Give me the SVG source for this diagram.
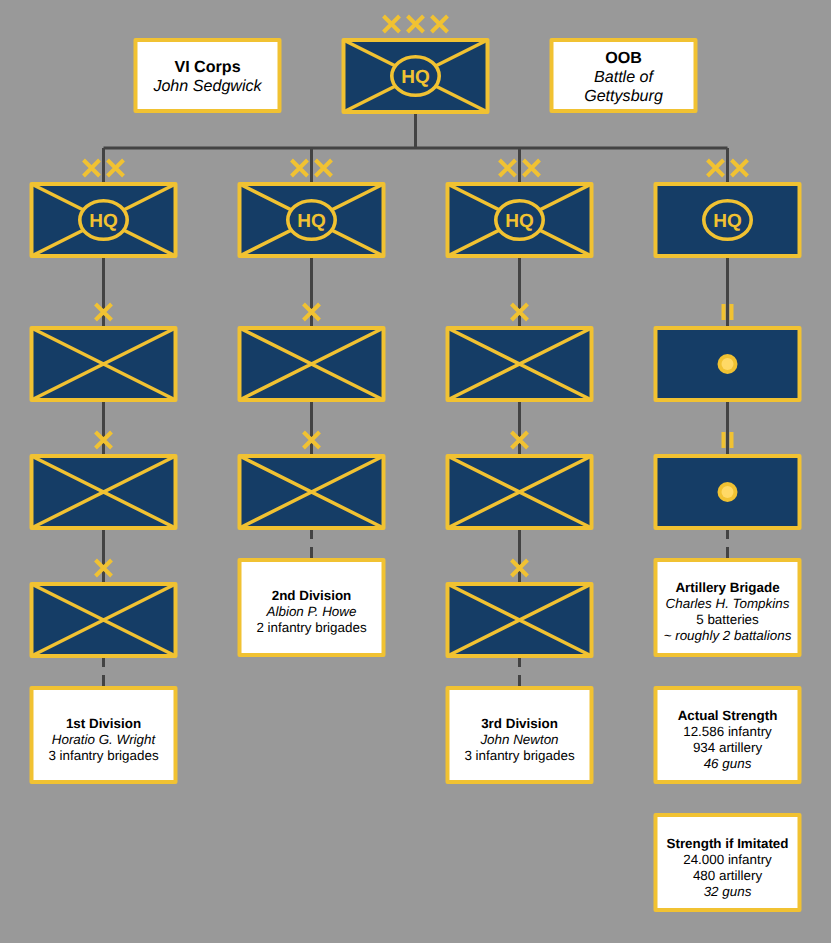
<svg xmlns="http://www.w3.org/2000/svg" xmlns:xlink="http://www.w3.org/1999/xlink" width="831" height="943" viewBox="0 0 831 943">
<style>
.u{fill:#153d66;stroke:#f1c232;stroke-width:4;stroke-linejoin:round}
.w{fill:#fff;stroke:#f1c232;stroke-width:4;stroke-linejoin:round}
.x{stroke:#f1c232;stroke-width:3.5;fill:none}
.m{stroke:#f1c232;stroke-width:4;fill:none}
.o{fill:#153d66;stroke:#f1c232;stroke-width:3.6}
.hq{font:bold 19px "Liberation Sans",Arial,sans-serif;fill:#f1c232;text-anchor:middle;text-rendering:geometricPrecision}
.c{stroke:#434343;stroke-width:3;fill:none}
.t{font:13.4px "Liberation Sans",Arial,sans-serif;fill:#000;text-anchor:middle;text-rendering:geometricPrecision}
.b{font-weight:bold}.i{font-style:italic}
.l{font-size:16.1px}
</style>
<defs>
<g id="X"><path class="m" d="M-8-8L8 8M8-8L-8 8"/></g>
<g id="II"><path class="m" d="M-4-8V8M4-8V8" /></g>
<g id="inf"><rect class="u" x="-72" y="-36" width="144" height="72"/><path class="x" d="M-72-36L72 36M72-36L-72 36"/></g>
<g id="hqo"><ellipse class="o" rx="23.7" ry="19.3"/><text class="hq" y="6.6">HQ</text></g>
<g id="art"><rect class="u" x="-72" y="-36" width="144" height="72"/><circle r="10" fill="#f1c232"/><circle r="6" fill="#ffd966"/></g>
</defs>
<rect width="831" height="943" fill="#999"/>
<g id="connectors">
<path class="c" d="M415.5 112V148M103.5 148H727.5M103.5 148V184M311.5 148V184M519.5 148V184M727.5 148V184"/>
<path class="c" d="M103.5 256V328M103.5 400V456M103.5 528V584M311.5 256V328M311.5 400V456M519.5 256V328M519.5 400V456M519.5 528V584M727.5 256V328M727.5 400V456"/>
<path class="c" d="M103.5 656V667M103.5 675V688M311.5 528V539M311.5 547V560M519.5 656V667M519.5 675V688M727.5 528V539M727.5 547V560"/>
</g>
<g id="corps-hq"><use href="#X" x="391.5" y="24"/><use href="#X" x="415.5" y="24"/><use href="#X" x="439.5" y="24"/><use href="#inf" x="415.5" y="76"/><use href="#hqo" x="415.5" y="76"/></g>
<g id="corps-label"><rect class="w" x="135.5" y="40" width="144" height="71"/><text class="t l b" x="207.5" y="72">VI Corps</text><text class="t l i" x="207.5" y="91">John Sedgwick</text></g>
<g id="oob"><rect class="w" x="551.5" y="40" width="144" height="71"/><text class="t l b" x="623.5" y="63">OOB</text><text class="t l i" x="623.5" y="82">Battle of</text><text class="t l i" x="623.5" y="101">Gettysburg</text></g>
<g id="div1-hq"><use href="#X" x="91.5" y="168"/><use href="#X" x="115.5" y="168"/><use href="#inf" x="103.5" y="220"/><use href="#hqo" x="103.5" y="220"/></g>
<g id="div2-hq"><use href="#X" x="299.5" y="168"/><use href="#X" x="323.5" y="168"/><use href="#inf" x="311.5" y="220"/><use href="#hqo" x="311.5" y="220"/></g>
<g id="div3-hq"><use href="#X" x="507.5" y="168"/><use href="#X" x="531.5" y="168"/><use href="#inf" x="519.5" y="220"/><use href="#hqo" x="519.5" y="220"/></g>
<g id="art-hq"><use href="#X" x="715.5" y="168"/><use href="#X" x="739.5" y="168"/><rect class="u" x="655.5" y="184" width="144" height="72"/><use href="#hqo" x="727.5" y="220"/></g>
<g id="d1b1"><use href="#X" x="103.5" y="312"/><use href="#inf" x="103.5" y="364"/></g>
<g id="d1b2"><use href="#X" x="103.5" y="440"/><use href="#inf" x="103.5" y="492"/></g>
<g id="d1b3"><use href="#X" x="103.5" y="568"/><use href="#inf" x="103.5" y="620"/></g>
<g id="d2b1"><use href="#X" x="311.5" y="312"/><use href="#inf" x="311.5" y="364"/></g>
<g id="d2b2"><use href="#X" x="311.5" y="440"/><use href="#inf" x="311.5" y="492"/></g>
<g id="d3b1"><use href="#X" x="519.5" y="312"/><use href="#inf" x="519.5" y="364"/></g>
<g id="d3b2"><use href="#X" x="519.5" y="440"/><use href="#inf" x="519.5" y="492"/></g>
<g id="d3b3"><use href="#X" x="519.5" y="568"/><use href="#inf" x="519.5" y="620"/></g>
<g id="a1"><use href="#II" x="727.5" y="312"/><use href="#art" x="727.5" y="364"/></g>
<g id="a2"><use href="#II" x="727.5" y="440"/><use href="#art" x="727.5" y="492"/></g>
<g id="div1"><rect class="w" x="31.5" y="688" width="144" height="94"/><text class="t b" x="103.5" y="728">1st Division</text><text class="t i" x="103.5" y="744">Horatio G. Wright</text><text class="t" x="103.5" y="760">3 infantry brigades</text></g>
<g id="div2"><rect class="w" x="239.5" y="560" width="144" height="95"/><text class="t b" x="311.5" y="600">2nd Division</text><text class="t i" x="311.5" y="616">Albion P. Howe</text><text class="t" x="311.5" y="632">2 infantry brigades</text></g>
<g id="div3"><rect class="w" x="447.5" y="688" width="144" height="94"/><text class="t b" x="519.5" y="728">3rd Division</text><text class="t i" x="519.5" y="744">John Newton</text><text class="t" x="519.5" y="760">3 infantry brigades</text></g>
<g id="artbde"><rect class="w" x="655.5" y="560" width="144" height="95"/><text class="t b" x="727.5" y="592">Artillery Brigade</text><text class="t i" x="727.5" y="608">Charles H. Tompkins</text><text class="t" x="727.5" y="624">5 batteries</text><text class="t i" x="727.5" y="640">~ roughly 2 battalions</text></g>
<g id="actual"><rect class="w" x="655.5" y="688" width="144" height="94"/><text class="t b" x="727.5" y="720">Actual Strength</text><text class="t" x="727.5" y="736">12.586 infantry</text><text class="t" x="727.5" y="752">934 artillery</text><text class="t i" x="727.5" y="768">46 guns</text></g>
<g id="imitated"><rect class="w" x="655.5" y="815" width="144" height="95"/><text class="t b" x="727.5" y="848">Strength if Imitated</text><text class="t" x="727.5" y="864">24.000 infantry</text><text class="t" x="727.5" y="880">480 artillery</text><text class="t i" x="727.5" y="896">32 guns</text></g>
</svg>
